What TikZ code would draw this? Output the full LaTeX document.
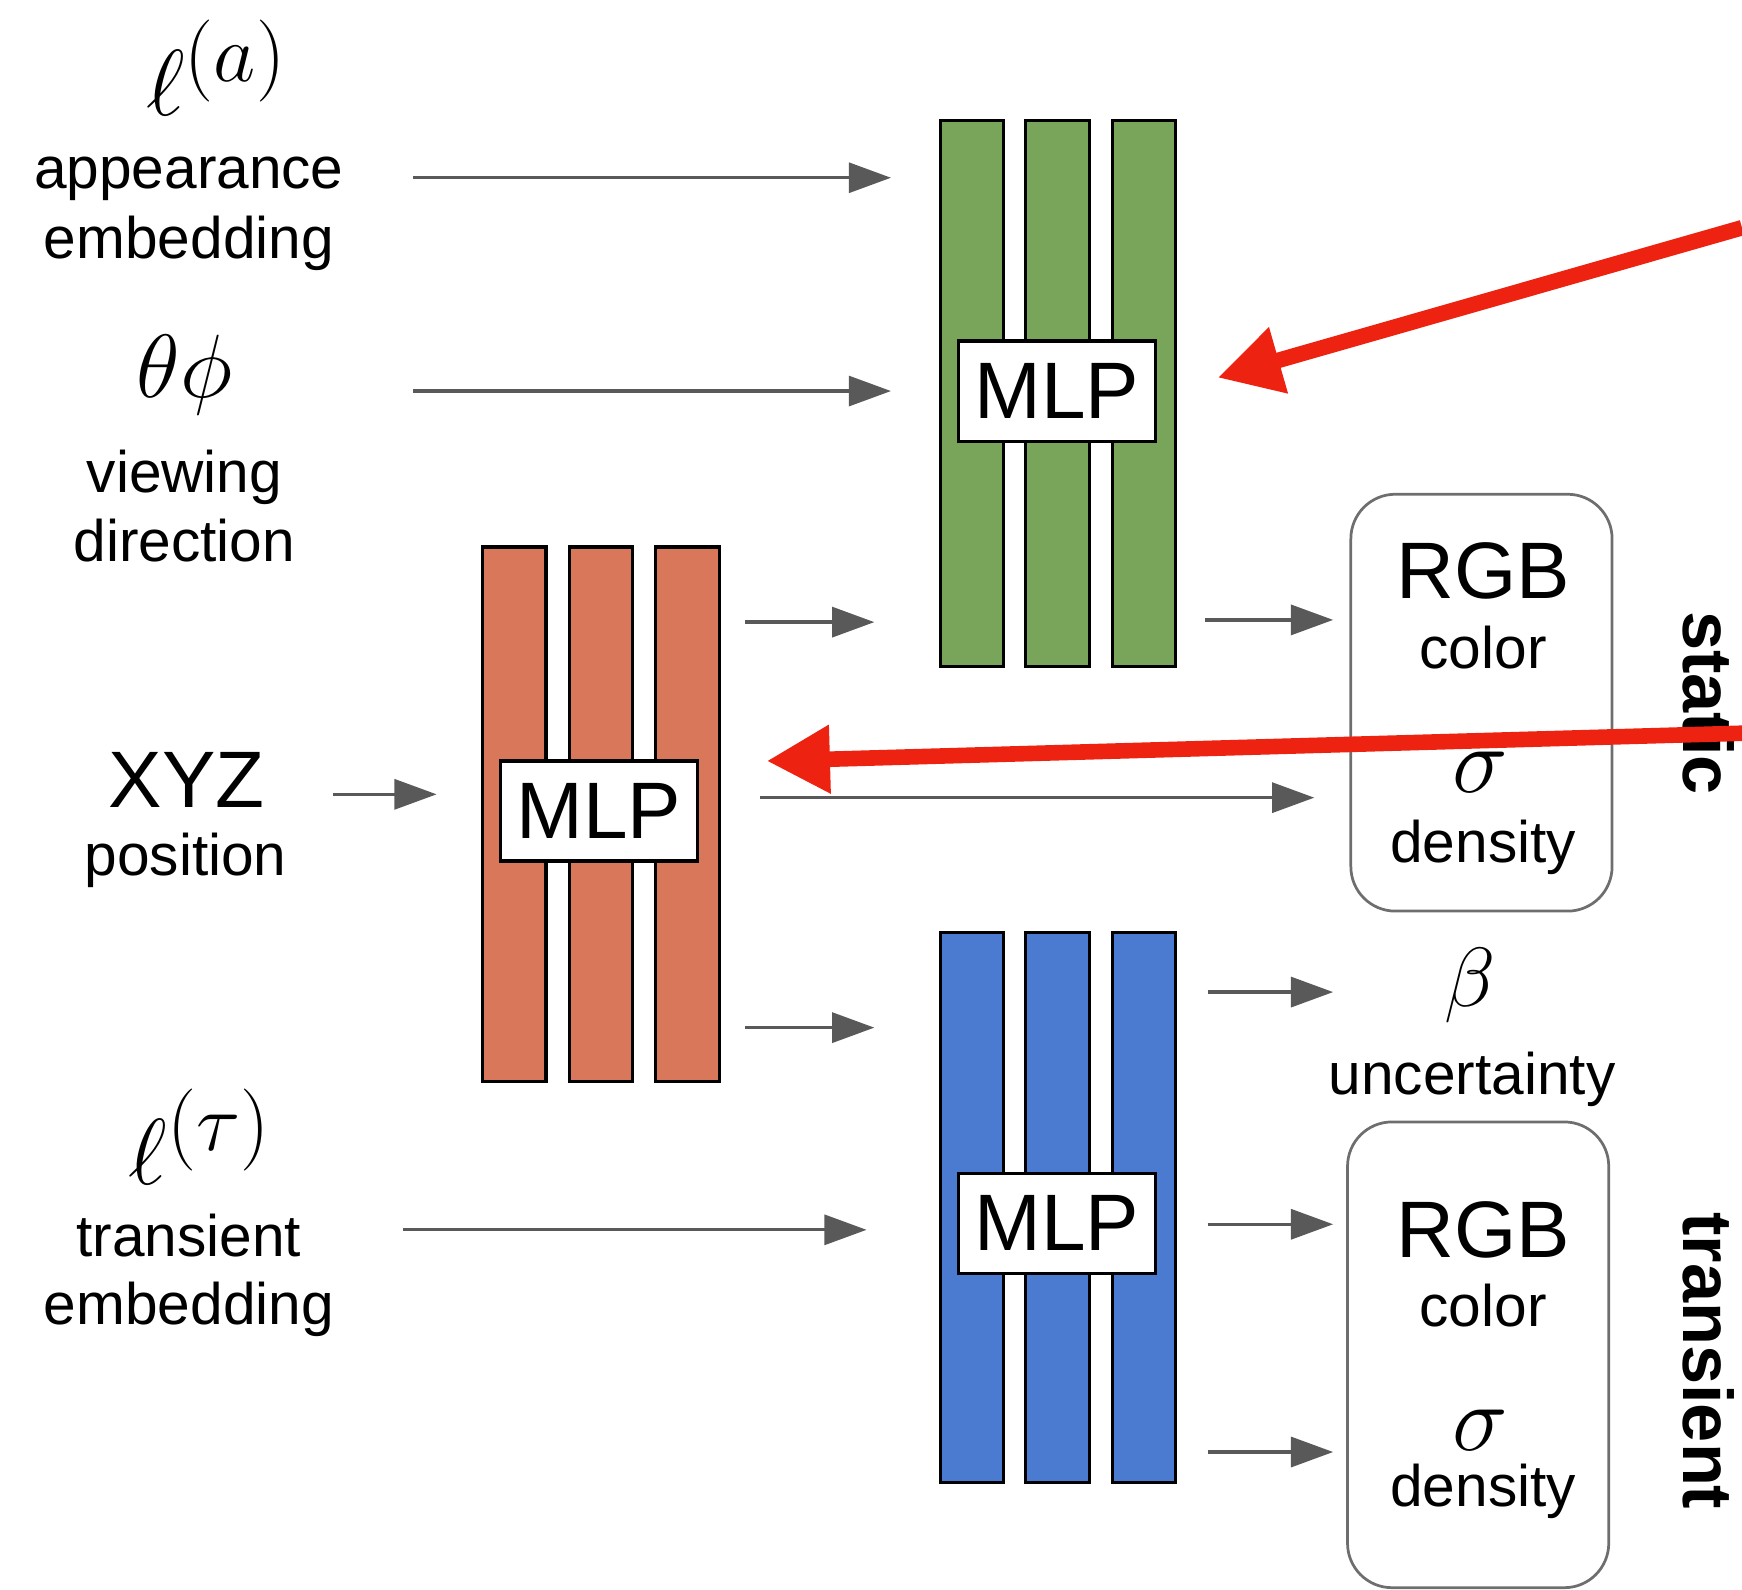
\RequirePackage{fix-cm}
\documentclass[tikz,border=0pt]{standalone}
\usepackage{fontspec}
\setmainfont{Liberation Sans}
\usetikzlibrary{arrows.meta}
\definecolor{gbar}{RGB}{120,165,90}
\definecolor{obar}{RGB}{217,119,91}
\definecolor{bbar}{RGB}{74,123,209}
\definecolor{arrgray}{RGB}{89,89,89}
\definecolor{redarr}{RGB}{238,34,17}
\definecolor{boxgray}{RGB}{110,110,110}
\newcommand\bigsup[1]{^{\mbox{\fontsize{21}{24}\selectfont$#1$}}}
\begin{document}
\begin{tikzpicture}[x=0.01cm,y=-0.01cm,
  small/.style={font=\fontsize{15}{18}\selectfont, inner sep=0, anchor=base},
  big/.style={font=\fontsize{20.5}{24}\selectfont, inner sep=0, anchor=base},
  mth/.style={font=\fontsize{23}{26}\selectfont, inner sep=0, anchor=base},
  ell/.style={font=\fontsize{24}{28}\selectfont, inner sep=0, anchor=base},
  bet/.style={font=\fontsize{21.5}{26}\selectfont, inner sep=0, anchor=base},
  sig/.style={font=\fontsize{24}{26}\selectfont, inner sep=0, anchor=base},
  side/.style={font=\bfseries\fontsize{18}{20}\selectfont, inner sep=0, anchor=base, rotate=-90},
  bar/.style={draw=black, line width=0.8pt, minimum width=0.57cm, inner sep=0, anchor=north west},
  mlpbox/.style={draw=black, fill=white, line width=0.8pt, minimum width=1.77cm, minimum height=0.9cm, inner sep=0, font=\fontsize{20.5}{24}\selectfont},
  outbox/.style={draw=boxgray, line width=0.7pt, rounded corners=0.4cm, minimum width=2.35cm, inner sep=0},
  garrow/.style={draw=arrgray, line width=0.85pt, -{Triangle[length=0.38cm,width=0.27cm]}},
  rarrow/.style={draw=redarr, line width=4pt, -{Triangle[length=0.57cm,width=0.58cm]}}
]
\useasboundingbox (0,0) rectangle (1568,1431);

% green MLP
\node[bar, fill=gbar, minimum height=4.91cm] (g1) at (845,107) {};
\node[bar, fill=gbar, minimum height=4.91cm] (g2) at (922,107) {};
\node[bar, fill=gbar, minimum height=4.91cm] (g3) at (1000,107) {};
\node[mlpbox] (gmlp) at (951.5,352) {MLP};

% orange MLP
\node[bar, fill=obar, minimum height=4.81cm] (o1) at (433,491) {};
\node[bar, fill=obar, minimum height=4.81cm] (o2) at (511,491) {};
\node[bar, fill=obar, minimum height=4.81cm] (o3) at (589,491) {};
\node[mlpbox] (omlp) at (539,730) {MLP};

% blue MLP
\node[bar, fill=bbar, minimum height=4.95cm] (b1) at (845,838) {};
\node[bar, fill=bbar, minimum height=4.95cm] (b2) at (922,838) {};
\node[bar, fill=bbar, minimum height=4.95cm] (b3) at (1000,838) {};
\node[mlpbox] (bmlp) at (951.5,1101) {MLP};

% output boxes
\node[outbox, minimum height=3.75cm] (sbox) at (1333.5,632.5) {};
\node[outbox, minimum height=4.19cm] (tbox) at (1330.5,1219.5) {};

% left texts
\node[ell] (la) at (195,104) {$\ell\bigsup{(a)}$};
\node[small] (app1) at (170,170) {appearance};
\node[small] (app2) at (170,233) {embedding};
\node[mth] (thph) at (166,358) {$\theta\phi$};
\node[small] (vd1) at (166,443) {viewing};
\node[small] (vd2) at (166,505) {direction};
\node[big] (xyz) at (168,727) {XYZ};
\node[small] (pos) at (167,788) {position};
\node[ell] (lt) at (180,1066) {$\ell\bigsup{(\tau)}$};
\node[small] (te1) at (170,1131) {transient};
\node[small] (te2) at (170,1192) {embedding};

% static box texts
\node[big] (srgb) at (1335,539) {RGB};
\node[small] (scol) at (1335,602) {color};
\node[sig] (ssig) at (1332,713) {$\sigma$};
\node[small] (sden) at (1335,776) {density};

% beta
\node[bet] (beta) at (1323,906) {$\beta$};
\node[small] (unc) at (1325,985) {uncertainty};

% transient box texts
\node[big] (trgb) at (1335,1132) {RGB};
\node[small] (tcol) at (1335,1194) {color};
\node[sig] (tsig) at (1332,1306) {$\sigma$};
\node[small] (tden) at (1335,1356) {density};

% side labels
\node[side] (stat) at (1515,633) {static};
\node[side] (trans) at (1515,1225) {transient};

% arrow end points
\coordinate (a1s) at (372,160);  \coordinate (a1e) at (802,160);
\coordinate (a2s) at (372,352);  \coordinate (a2e) at (802,352);
\coordinate (a3s) at (300,715);  \coordinate (a3e) at (393,715);
\coordinate (a4s) at (671,560);  \coordinate (a4e) at (787,560);
\coordinate (a5s) at (684,718);  \coordinate (a5e) at (1183,718);
\coordinate (a6s) at (671,925);  \coordinate (a6e) at (787,925);
\coordinate (a7s) at (363,1107); \coordinate (a7e) at (780,1107);
\coordinate (a8s) at (1085,558); \coordinate (a8e) at (1200,558);
\coordinate (a9s) at (1087,893); \coordinate (a9e) at (1200,893);
\coordinate (a10s) at (1087,1102); \coordinate (a10e) at (1200,1102);
\coordinate (a11s) at (1087,1307); \coordinate (a11e) at (1200,1307);

\draw[garrow] (a1s) -- (a1e);
\draw[garrow] (a2s) -- (a2e);
\draw[garrow] (a3s) -- (a3e);
\draw[garrow] (a4s) -- (a4e);
\draw[garrow] (a5s) -- (a5e);
\draw[garrow] (a6s) -- (a6e);
\draw[garrow] (a7s) -- (a7e);
\draw[garrow] (a8s) -- (a8e);
\draw[garrow] (a9s) -- (a9e);
\draw[garrow] (a10s) -- (a10e);
\draw[garrow] (a11s) -- (a11e);

% red arrows
\coordinate (r1s) at (1568,205); \coordinate (r1e) at (1096,340);
\coordinate (r2s) at (1568,660); \coordinate (r2e) at (690,685);
\draw[rarrow] (r1s) -- (r1e);
\draw[rarrow] (r2s) -- (r2e);
\end{tikzpicture}
\end{document}
